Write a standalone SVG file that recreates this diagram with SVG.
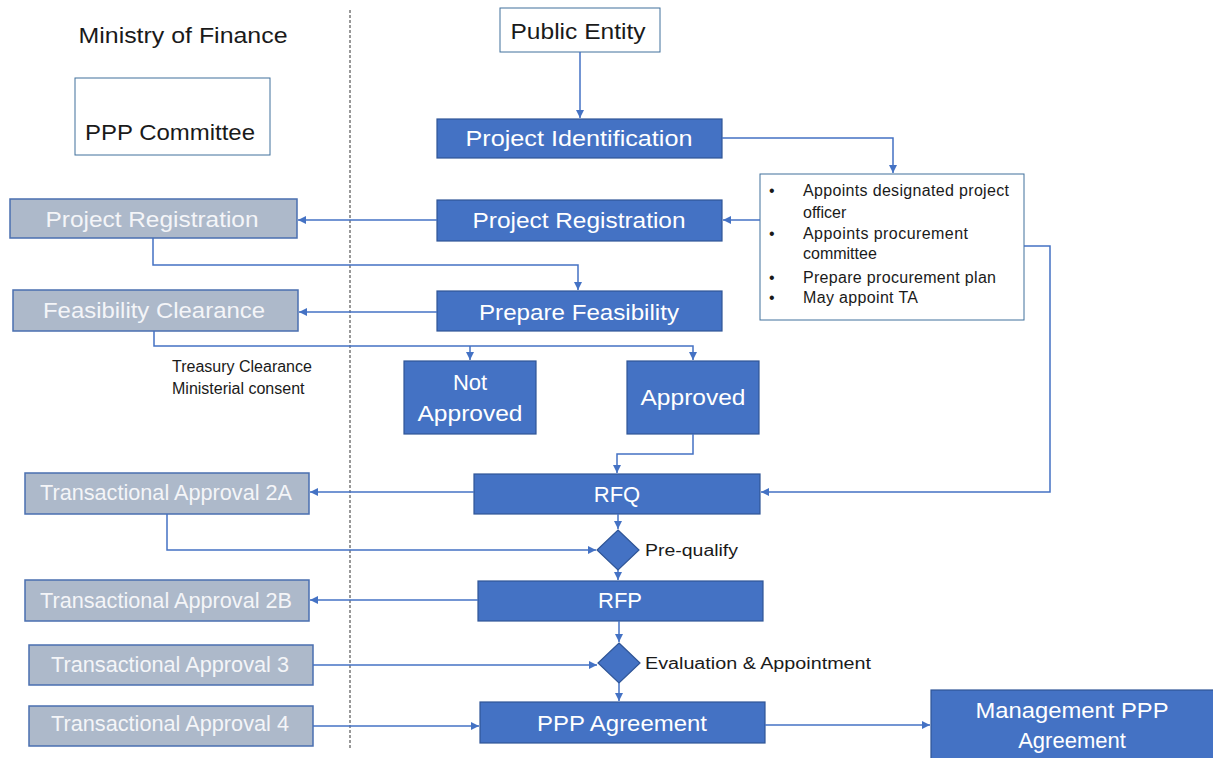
<svg xmlns="http://www.w3.org/2000/svg" width="1213" height="758" viewBox="0 0 1213 758">
  <defs>
    <marker id="arr" viewBox="0 0 10 10" refX="10" refY="5" markerWidth="8" markerHeight="8" orient="auto" markerUnits="userSpaceOnUse">
      <path d="M0,0 L10,5 L0,10 z" fill="#4472C4"/>
    </marker>
    <style>
      .blue { fill: #4472C4; stroke: #2F5597; stroke-width: 1.2; }
      .grey { fill: #ADB9CA; stroke: #4A6FB0; stroke-width: 1.5; }
      .white { fill: #FFFFFF; stroke: #41719C; stroke-width: 1; }
      .lbl { font-family: "Liberation Sans", Arial, sans-serif; font-size: 22px; text-anchor: middle; }
      .wt { fill: #FFFFFF; }
      .gt { fill: #F4F5F8; }
      .dk { fill: #1A1A1A; }
      .sm { font-family: "Liberation Sans", Arial, sans-serif; font-size: 16px; fill: #1A1A1A; }
      .conn path { fill: none; stroke: #4472C4; stroke-width: 1.5; marker-end: url(#arr); }
    </style>
  </defs>
  <rect width="1213" height="758" fill="#FFFFFF"/>

  <!-- lane divider -->
  <line x1="350" y1="10" x2="350" y2="748" stroke="#333" stroke-width="1" stroke-dasharray="3,2"/>

  <g id="ministry-title">
    <text class="lbl dk" x="183" y="43" textLength="209" lengthAdjust="spacingAndGlyphs">Ministry of Finance</text>
  </g>
  <g id="ppp-committee">
    <rect class="white" x="75" y="78" width="195" height="77"/>
    <text class="lbl dk" x="170" y="140" textLength="170" lengthAdjust="spacingAndGlyphs">PPP Committee</text>
  </g>
  <g id="public-entity">
    <rect class="white" x="500" y="8" width="160" height="44"/>
    <text class="lbl dk" x="578" y="39" textLength="135" lengthAdjust="spacingAndGlyphs">Public Entity</text>
  </g>
  <g id="project-identification">
    <rect class="blue" x="437" y="119" width="285" height="39"/>
    <text class="lbl wt" x="579" y="146" textLength="227" lengthAdjust="spacingAndGlyphs">Project Identification</text>
  </g>
  <g id="officer-tasks">
    <rect class="white" x="760" y="174" width="264" height="146"/>
    <text class="sm" x="769" y="196">•</text>
    <text class="sm" x="803" y="196" textLength="206" lengthAdjust="spacing">Appoints designated project</text>
    <text class="sm" x="803" y="218">officer</text>
    <text class="sm" x="769" y="239">•</text>
    <text class="sm" x="803" y="239" textLength="165" lengthAdjust="spacing">Appoints procurement</text>
    <text class="sm" x="803" y="259">committee</text>
    <text class="sm" x="769" y="283">•</text>
    <text class="sm" x="803" y="283" textLength="193" lengthAdjust="spacing">Prepare procurement plan</text>
    <text class="sm" x="769" y="303">•</text>
    <text class="sm" x="803" y="303" textLength="115" lengthAdjust="spacing">May appoint TA</text>
  </g>
  <g id="project-registration-pe">
    <rect class="blue" x="437" y="200" width="285" height="41"/>
    <text class="lbl wt" x="579" y="228" textLength="213" lengthAdjust="spacingAndGlyphs">Project Registration</text>
  </g>
  <g id="project-registration-mof">
    <rect class="grey" x="10" y="199" width="287" height="39"/>
    <text class="lbl gt" x="152" y="227" textLength="213" lengthAdjust="spacingAndGlyphs">Project Registration</text>
  </g>
  <g id="prepare-feasibility">
    <rect class="blue" x="437" y="291" width="285" height="40"/>
    <text class="lbl wt" x="579" y="320" textLength="200" lengthAdjust="spacingAndGlyphs">Prepare Feasibility</text>
  </g>
  <g id="feasibility-clearance">
    <rect class="grey" x="13" y="290" width="285" height="41"/>
    <text class="lbl gt" x="154" y="318" textLength="222" lengthAdjust="spacingAndGlyphs">Feasibility Clearance</text>
  </g>
  <g id="clearance-note">
    <text class="sm" x="172" y="372">Treasury Clearance</text>
    <text class="sm" x="172" y="394">Ministerial consent</text>
  </g>
  <g id="not-approved">
    <rect class="blue" x="404" y="361" width="132" height="73"/>
    <text class="lbl wt" x="470" y="390">Not</text>
    <text class="lbl wt" x="470" y="421" textLength="105" lengthAdjust="spacingAndGlyphs">Approved</text>
  </g>
  <g id="approved">
    <rect class="blue" x="627" y="361" width="132" height="73"/>
    <text class="lbl wt" x="693" y="405" textLength="105" lengthAdjust="spacingAndGlyphs">Approved</text>
  </g>
  <g id="rfq">
    <rect class="blue" x="474" y="474" width="286" height="40"/>
    <text class="lbl wt" x="617" y="502">RFQ</text>
  </g>
  <g id="ta-2a">
    <rect class="grey" x="25" y="473" width="284" height="41"/>
    <text class="lbl gt" x="166" y="500" font-size="20" textLength="252" lengthAdjust="spacingAndGlyphs">Transactional Approval 2A</text>
  </g>
  <g id="pre-qualify">
    <path class="blue" d="M618,530 L639,550 L618,570 L597,550 z"/>
    <text class="sm" x="645" y="556" font-size="17.5" textLength="93" lengthAdjust="spacingAndGlyphs">Pre-qualify</text>
  </g>
  <g id="rfp">
    <rect class="blue" x="478" y="581" width="285" height="40"/>
    <text class="lbl wt" x="620" y="608">RFP</text>
  </g>
  <g id="ta-2b">
    <rect class="grey" x="25" y="580" width="284" height="41"/>
    <text class="lbl gt" x="166" y="608" font-size="20" textLength="252" lengthAdjust="spacingAndGlyphs">Transactional Approval 2B</text>
  </g>
  <g id="evaluation">
    <path class="blue" d="M619,643 L640,663 L619,683 L598,663 z"/>
    <text class="sm" x="645" y="669" font-size="17.5" textLength="226" lengthAdjust="spacingAndGlyphs">Evaluation &amp; Appointment</text>
  </g>
  <g id="ta-3">
    <rect class="grey" x="29" y="645" width="284" height="40"/>
    <text class="lbl gt" x="170" y="672" font-size="20" textLength="238" lengthAdjust="spacingAndGlyphs">Transactional Approval 3</text>
  </g>
  <g id="ta-4">
    <rect class="grey" x="29" y="706" width="284" height="40"/>
    <text class="lbl gt" x="170" y="731" font-size="20" textLength="238" lengthAdjust="spacingAndGlyphs">Transactional Approval 4</text>
  </g>
  <g id="ppp-agreement">
    <rect class="blue" x="480" y="702" width="285" height="41"/>
    <text class="lbl wt" x="622" y="731" textLength="170" lengthAdjust="spacingAndGlyphs">PPP Agreement</text>
  </g>
  <g id="management-ppp-agreement">
    <rect class="blue" x="931" y="690" width="290" height="75"/>
    <text class="lbl wt" x="1072" y="718" textLength="193" lengthAdjust="spacingAndGlyphs">Management PPP</text>
    <text class="lbl wt" x="1072" y="748">Agreement</text>
  </g>

  <g id="connectors" class="conn">
    <path d="M580,52 V118"/>
    <path d="M722,138 H893 V173"/>
    <path d="M760,220 H723"/>
    <path d="M437,220 H298"/>
    <path d="M153,238 V265 H578 V290"/>
    <path d="M437,312 H299"/>
    <path d="M154,331 V346 H693 V360"/>
    <path d="M470,346 V360"/>
    <path d="M693,434 V454 H617 V473"/>
    <path d="M1024,246 H1050 V492 H761"/>
    <path d="M474,492 H310"/>
    <path d="M167,514 V550 H596"/>
    <path d="M618,514 V529"/>
    <path d="M618,570 V580"/>
    <path d="M478,600 H310"/>
    <path d="M619,621 V642"/>
    <path d="M313,665 H597"/>
    <path d="M619,683 V701"/>
    <path d="M313,726 H479"/>
    <path d="M765,725 H930"/>
  </g>
</svg>
